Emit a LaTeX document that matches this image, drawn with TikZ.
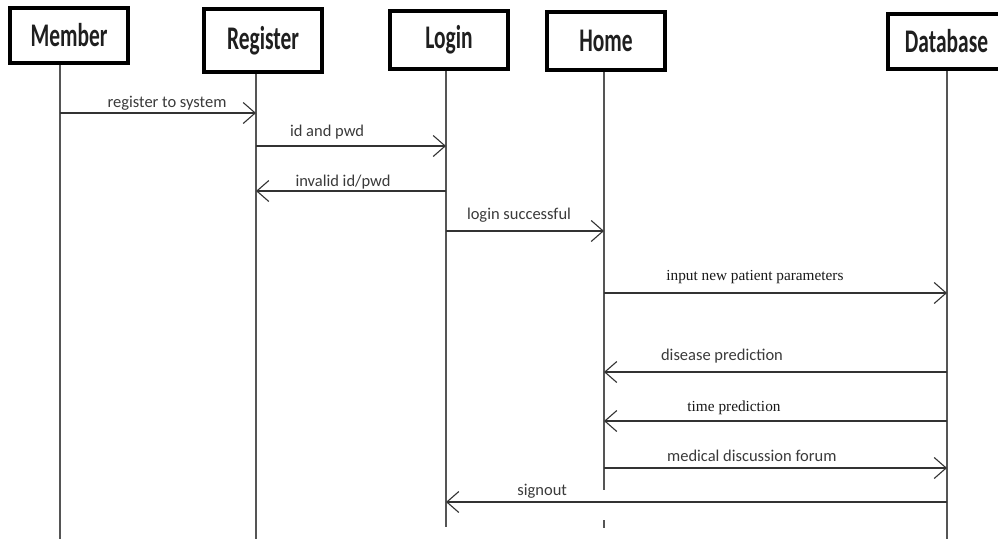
\documentclass[tikz,border=0pt]{standalone}
\usepackage{fontspec}
\setmainfont{Carlito}
\newfontfamily\headfont{Carlito}[FakeStretch=0.65]
\newfontfamily\timesfont{Liberation Serif}
\usetikzlibrary{arrows.meta, positioning}
\definecolor{cmsg}{HTML}{333333}
\definecolor{clife}{HTML}{555555}
\definecolor{ctext}{HTML}{3A3A3A}
\tikzset{
  actor/.style={draw=black, line width=4pt, fill=white, minimum width=118pt, minimum height=#1, inner sep=0pt,
    font=\headfont\bfseries\fontsize{33}{36}\selectfont, text=black!88},
  actor/.default=58pt,
  lifeline/.style={draw=clife, line width=1.2pt},
  msg/.style={draw=cmsg, line width=1.5pt, -{Straight Barb[length=12pt, width=21pt, line width=1.1pt]}},
  lbl/.style={font=\fontsize{16.5}{18}\selectfont, text=ctext, anchor=base, inner sep=0pt},
  tlbl/.style={font=\timesfont\fontsize{15.3}{17}\selectfont, text=black!90, anchor=base, inner sep=0pt},
}

\begin{document}
\begin{tikzpicture}[x=1pt, y=-1pt]
  \useasboundingbox[fill=white] (0,0) rectangle (998,539);
  % actors
  \node[actor=55pt] (member) at (69,35.5) {Member};
  \node[actor=63pt] (register) at (263,40.5) {Register};
  \node[actor=58pt] (login) at (449,40) {Login};
  \node[actor=58pt] (home) at (606,41) {Home};
  \node[actor=55pt] (database) at (946.5,41.5) {Database};
  % lifeline ends
  \coordinate (memberL) at (60,539);
  \coordinate (registerL) at (256,539);
  \coordinate (loginL) at (446,527);
  \coordinate (homeL) at (604,490);
  \coordinate (databaseL) at (947,539);
  \draw[lifeline] (memberL |- member.south) -- (memberL);
  \draw[lifeline] (registerL |- register.south) -- (registerL);
  \draw[lifeline] (loginL |- login.south) -- (loginL);
  \draw[lifeline] (homeL |- home.south) -- (homeL);
  \draw[lifeline] ([yshift=-30pt]homeL) -- ([yshift=-38pt]homeL);
  \draw[lifeline] (databaseL |- database.south) -- (databaseL);
  % messages
  \draw[msg] (memberL |- 0,113) -- (registerL |- 0,113) node[lbl, pos=0.546, yshift=6pt] {register to system};
  \draw[msg] (registerL |- 0,146) -- (loginL |- 0,146) node[lbl, pos=0.374, yshift=10pt] {id and pwd};
  \draw[msg] (loginL |- 0,191) -- (registerL |- 0,191) node[lbl, pos=0.542, yshift=5pt] {invalid id/pwd};
  \draw[msg] (loginL |- 0,231) -- (homeL |- 0,231) node[lbl, pos=0.462, yshift=12pt] {login successful};
  \draw[msg] (homeL |- 0,293) -- (databaseL |- 0,293) node[tlbl, pos=0.44, yshift=13pt] {input new patient parameters};
  \draw[msg] (databaseL |- 0,372) -- (homeL |- 0,372) node[lbl, pos=0.656, yshift=12pt] {disease prediction};
  \draw[msg] (databaseL |- 0,421) -- (homeL |- 0,421) node[tlbl, pos=0.621, yshift=10pt] {time prediction};
  \draw[msg] (homeL |- 0,468) -- (databaseL |- 0,468) node[lbl, pos=0.431, yshift=7pt] {medical discussion forum};
  \draw[msg] (databaseL |- 0,502) -- (loginL |- 0,502) node[lbl, pos=0.808, yshift=7pt] {signout};
\end{tikzpicture}
\end{document}
